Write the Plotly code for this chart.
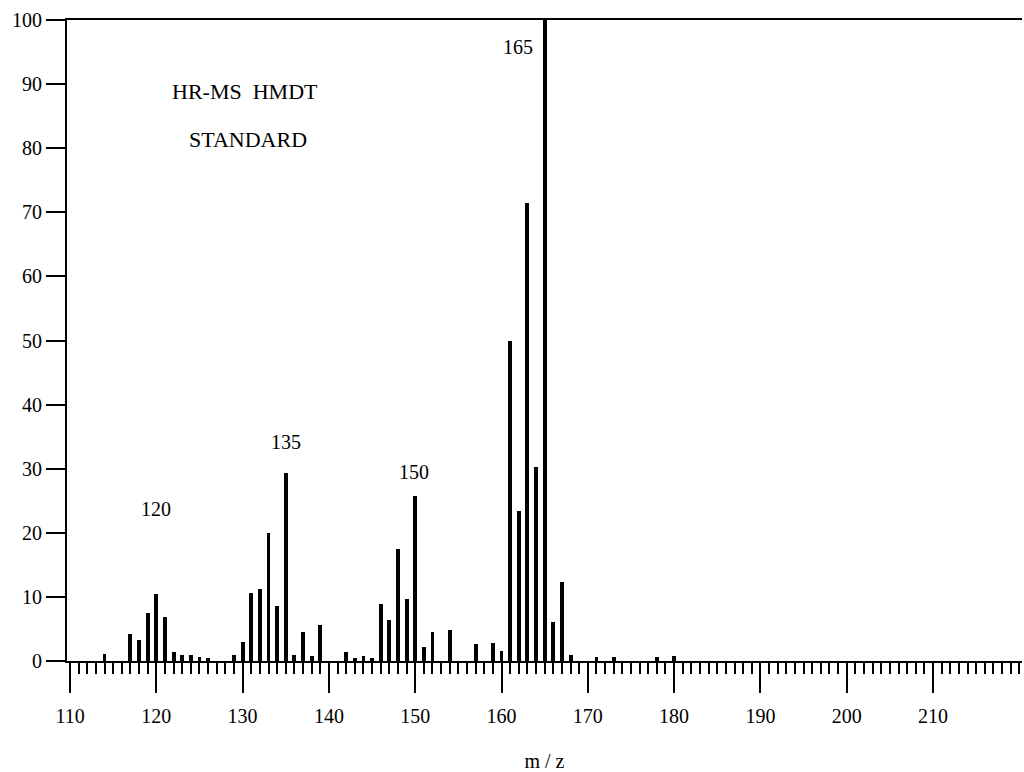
import plotly.graph_objects as go

# m/z values and relative intensities
mz = [114, 117, 118, 119, 120, 121, 122, 123, 124, 125, 126,
      129, 130, 131, 132, 133, 134, 135, 136, 137, 138, 139,
      142, 143, 144, 145, 146, 147, 148, 149, 150, 151, 152, 154,
      157, 159, 160, 161, 162, 163, 164, 165, 166, 167, 168,
      171, 173, 178, 180]
intensity = [1.1, 4.2, 3.3, 7.5, 10.4, 6.8, 1.4, 1.0, 0.9, 0.6, 0.5,
             0.9, 3.0, 10.6, 11.3, 20.0, 8.6, 29.3, 0.9, 4.5, 0.8, 5.6,
             1.4, 0.5, 0.8, 0.4, 8.9, 6.4, 17.4, 9.7, 25.8, 2.2, 4.5, 4.8,
             2.7, 2.8, 1.6, 49.9, 23.4, 71.5, 30.3, 100.0, 6.1, 12.4, 0.9,
             0.7, 0.6, 0.6, 0.8]

peak_labels = ["120", "135", "150", "165"]
peak_label_x = [120.0, 135.0, 149.9, 161.9]
peak_label_y = [23.7, 34.2, 29.5, 95.8]

title_lines = ["HR-MS  HMDT", "STANDARD"]
title_x = [130.3, 130.6]
title_y = [88.8, 81.4]

x_ticks = [110, 120, 130, 140, 150, 160, 170, 180, 190, 200, 210]
y_ticks = [0, 10, 20, 30, 40, 50, 60, 70, 80, 90, 100]

FONT = "Liberation Serif"

fig = go.Figure()
fig.add_trace(go.Bar(x=mz, y=intensity, width=0.45,
                     marker=dict(color="black", line=dict(width=0)),
                     showlegend=False))

for t, x, y in zip(peak_labels, peak_label_x, peak_label_y):
    fig.add_annotation(x=x, y=y, text=t, showarrow=False,
                       font=dict(family=FONT, size=20, color="black"))
for t, x, y in zip(title_lines, title_x, title_y):
    fig.add_annotation(x=x, y=y, text=t, showarrow=False,
                       font=dict(family=FONT, size=22, color="black"))

fig.update_layout(
    width=1024, height=772,
    margin=dict(l=67, r=2, t=20, b=111),
    paper_bgcolor="white", plot_bgcolor="white",
    font=dict(family=FONT, size=20, color="black"),
    bargap=0,
)
fig.update_xaxes(
    range=[109.65, 220.31], tickvals=x_ticks, ticktext=[str(v) for v in x_ticks],
    ticks="outside", ticklen=30, tickwidth=2, tickcolor="black",
    minor=dict(dtick=1, tick0=110, ticks="outside", ticklen=11, tickwidth=2, tickcolor="black", showgrid=False),
    showline=True, linecolor="black", linewidth=2, mirror=True,
    showgrid=False, zeroline=False, automargin=False,
    ticklabelstandoff=6,
    title=dict(text="m / z", font=dict(family=FONT, size=20), standoff=28),
    tickfont=dict(family=FONT, size=20),
)
fig.update_yaxes(
    range=[0, 100], tickvals=y_ticks,
    ticks="outside", ticklen=19, tickwidth=2, tickcolor="black",
    showline=True, linecolor="black", linewidth=2,
    showgrid=False, zeroline=False, automargin=False,
    tickfont=dict(family=FONT, size=20),
)

fig.write_html(
    "out.html",
    config={"displayModeBar": False},
    post_script="document.body.style.margin='0';document.body.style.overflow='hidden';",
)
